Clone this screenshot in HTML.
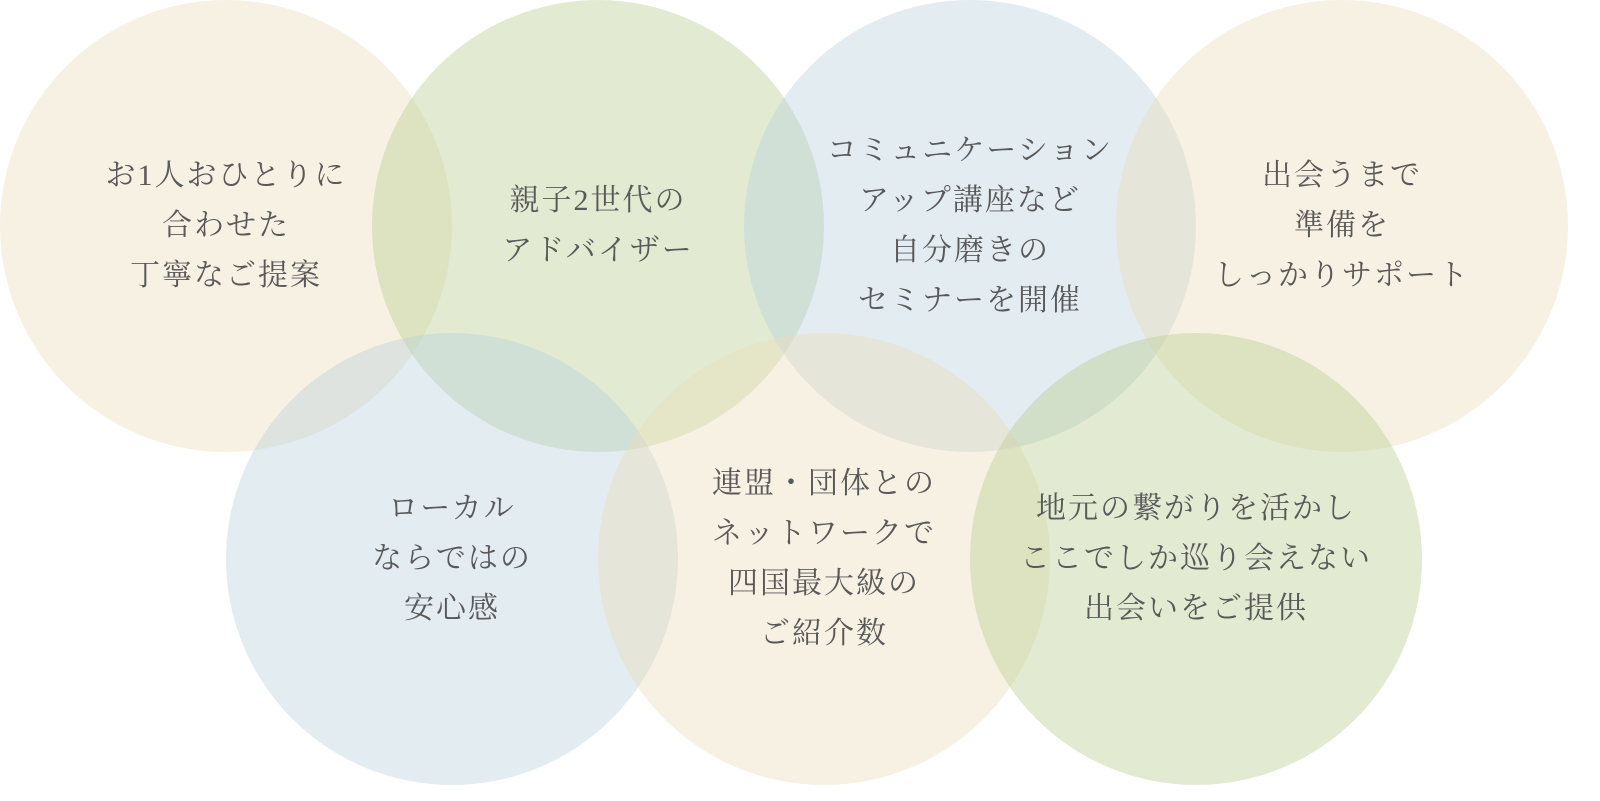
<!DOCTYPE html>
<html><head><meta charset="utf-8"><style>
body{margin:0;width:1600px;height:801px;background:#fff;position:relative;overflow:hidden}
.c{position:absolute;width:452px;height:452px;border-radius:50%}
.b{background:rgba(235,220,185,0.4)}.g{background:rgba(182,205,142,0.4)}.l{background:rgba(185,207,220,0.4)}
.t{position:absolute;width:452px;height:452px;display:flex;align-items:center;justify-content:center;text-align:center;font-family:"Liberation Serif","Noto Serif CJK SC",serif;font-size:30px;line-height:50px;color:#595959;letter-spacing:2px}
</style></head><body>
<div class="c b" style="left:0;top:0"></div>
<div class="c g" style="left:372px;top:0"></div>
<div class="c l" style="left:744px;top:0"></div>
<div class="c b" style="left:1116px;top:0"></div>
<div class="c l" style="left:226px;top:333px"></div>
<div class="c b" style="left:598px;top:333px"></div>
<div class="c g" style="left:970px;top:333px"></div>
<div class="t" style="left:0;top:0">お1人おひとりに<br>合わせた<br>丁寧なご提案</div>
<div class="t" style="left:372px;top:0">親子2世代の<br>アドバイザー</div>
<div class="t" style="left:744px;top:0">コミュニケーション<br>アップ講座など<br>自分磨きの<br>セミナーを開催</div>
<div class="t" style="left:1116px;top:0">出会うまで<br>準備を<br>しっかりサポート</div>
<div class="t" style="left:226px;top:333px">ローカル<br>ならではの<br>安心感</div>
<div class="t" style="left:598px;top:333px">連盟・団体との<br>ネットワークで<br>四国最大級の<br>ご紹介数</div>
<div class="t" style="left:970px;top:333px">地元の繋がりを活かし<br>ここでしか巡り会えない<br>出会いをご提供</div>
</body></html>
